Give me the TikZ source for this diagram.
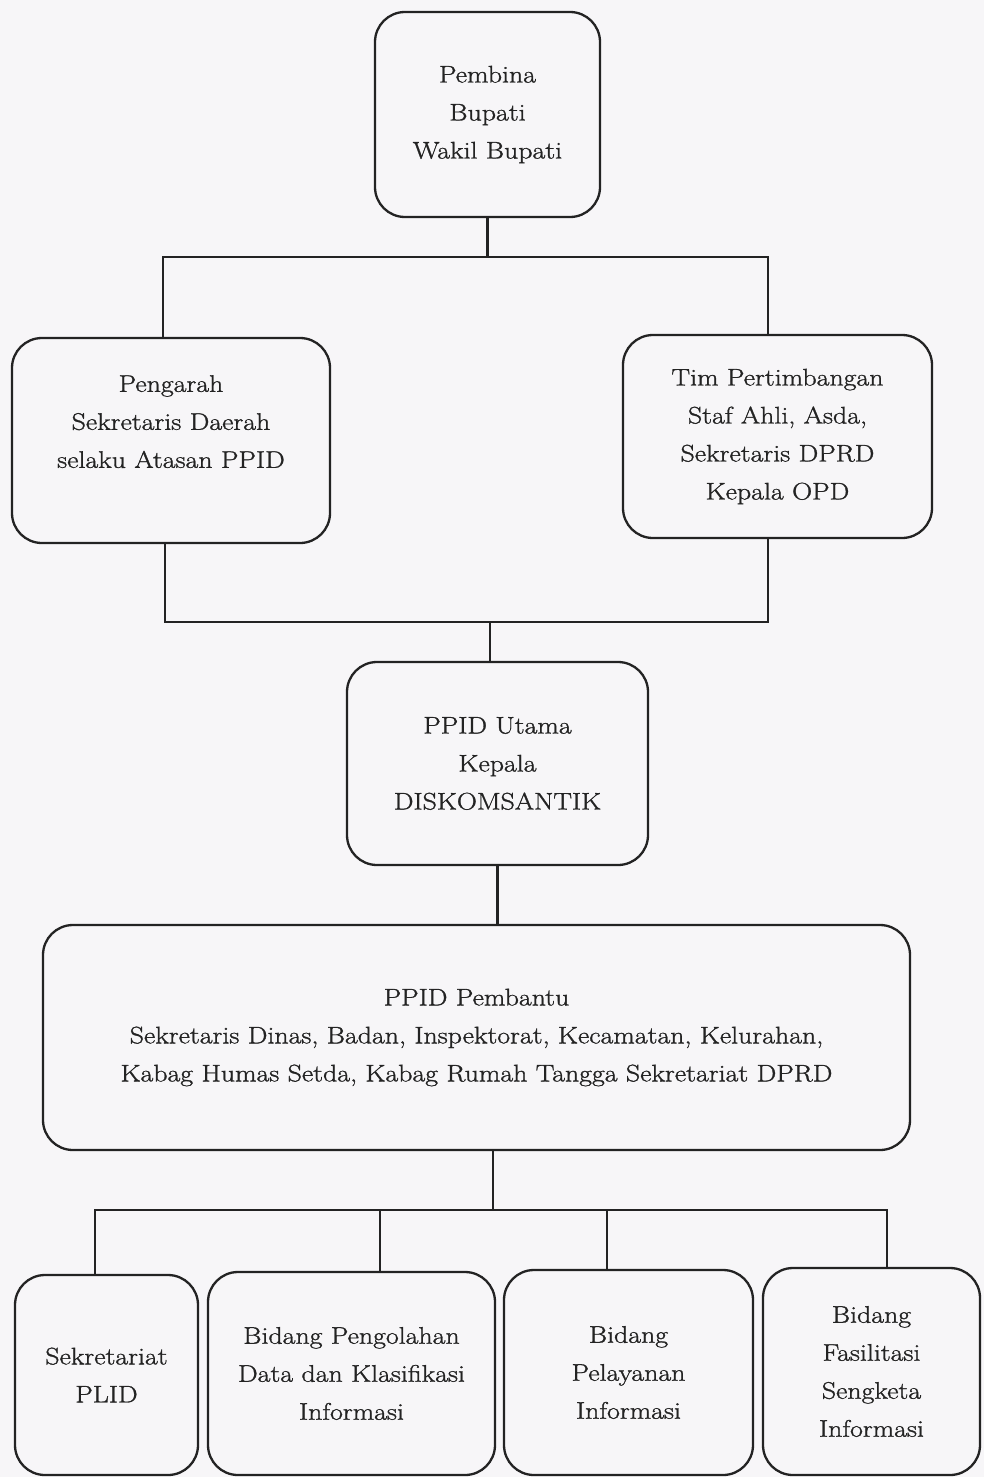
\documentclass[tikz,border=0pt]{standalone}
\usepackage{fontspec}
\setmainfont{Latin Modern Roman}[FakeStretch=1.16, FakeBold=1.2]
\definecolor{bg}{RGB}{247,246,248}
\definecolor{ink}{RGB}{35,35,35}
\tikzset{
  orgbox/.style={draw=ink, line width=2.3pt, rounded corners=30pt, fill=bg,
    align=center, inner sep=0pt, text=ink,
    font=\fontsize{24}{38}\selectfont},
  link/.style={draw=ink, line width=2.3pt}
}
\begin{document}
\begin{tikzpicture}[x=1pt,y=-1pt]
\fill[bg] (0,0) rectangle (984,1477);
\useasboundingbox (0,0) rectangle (984,1477);
% boxes
\node[orgbox, minimum width=225pt, minimum height=205pt] (pem) at (487.5,114.5)
  {Pembina\\Bupati\\Wakil Bupati};
\node[orgbox, minimum width=318pt, minimum height=205pt] (pen) at (171,440.5)
  {Pengarah\\Sekretaris Daerah\\selaku Atasan PPID\\\mbox{}};
\node[orgbox, minimum width=309pt, minimum height=203pt] (tim) at (777.5,436.5)
  {Tim Pertimbangan\\Staf Ahli, Asda,\\Sekretaris DPRD\\Kepala OPD};
\node[orgbox, minimum width=301pt, minimum height=203pt] (utm) at (497.5,763.5)
  {PPID Utama\\Kepala\\DISKOMSANTIK};
\node[orgbox, minimum width=867pt, minimum height=225pt] (pbt) at (476.5,1037.5)
  {PPID Pembantu\\Sekretaris Dinas, Badan, Inspektorat, Kecamatan, Kelurahan,\\Kabag Humas Setda, Kabag Rumah Tangga Sekretariat DPRD};
\node[orgbox, minimum width=183pt, minimum height=200pt] (b1) at (106.5,1375)
  {Sekretariat\\PLID};
\node[orgbox, minimum width=287pt, minimum height=203pt] (b2) at (351.5,1373.5)
  {Bidang Pengolahan\\Data dan Klasifikasi\\Informasi};
\node[orgbox, minimum width=249pt, minimum height=205pt] (b3) at (628.5,1372.5)
  {Bidang\\Pelayanan\\Informasi};
\node[orgbox, minimum width=217pt, minimum height=207pt] (b4) at (871.5,1371.5)
  {Bidang\\Fasilitasi\\Sengketa\\Informasi};
% junction points
\coordinate (tl) at (163,257);
\coordinate (tr) at (768,257);
\coordinate (bl) at (165,622);
\coordinate (br) at (768,622);
\coordinate (bm) at (490,622);
\coordinate (pm) at (493,1210);
\coordinate (c1) at (95,1210);
\coordinate (c2) at (380,1210);
\coordinate (c3) at (607,1210);
\coordinate (c4) at (887,1210);
% connectors
\draw[link] (pem.south) -- (pem.south |- tl);
\draw[link] (tl |- pen.north) -- (tl) -- (tr) -- (tr |- tim.north);
\draw[link] (bl |- pen.south) -- (bl) -- (br) -- (br |- tim.south);
\draw[link] (bm) -- (bm |- utm.north);
\draw[link] (utm.south) -- (utm.south |- pbt.north);
\draw[link] (pm |- pbt.south) -- (pm);
\draw[link] (c1 |- b1.north) -- (c1) -- (c4) -- (c4 |- b4.north);
\draw[link] (c2) -- (c2 |- b2.north);
\draw[link] (c3) -- (c3 |- b3.north);
\end{tikzpicture}
\end{document}
